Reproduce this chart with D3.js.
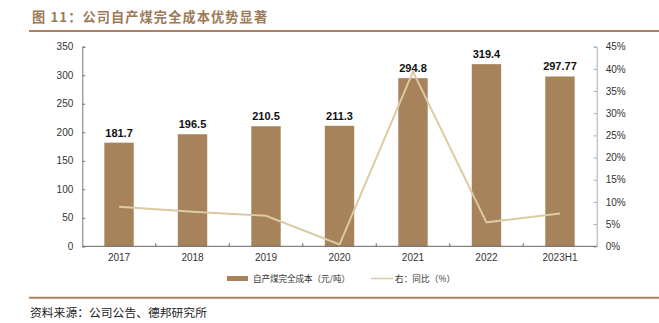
<!DOCTYPE html>
<html><head><meta charset="utf-8">
<script src="https://cdn.jsdelivr.net/npm/d3@7"></script>
<style>
html,body{margin:0;padding:0;background:#fff;}
svg{display:block;}
</style></head>
<body>
<svg id="c" width="659" height="323"></svg>
<script>
const categories = ["2017","2018","2019","2020","2021","2022","2023H1"];
const costValues = [181.7,196.5,210.5,211.3,294.8,319.4,297.77];
const costLabels = ["181.7","196.5","210.5","211.3","294.8","319.4","297.77"];
const yoyValues = [8.9,7.8,6.9,0.4,39.4,5.4,7.4];
const leftTicks = [0,50,100,150,200,250,300,350];
const rightTicks = [0,5,10,15,20,25,30,35,40,45];
const titleText = "图 11：公司自产煤完全成本优势显著";
const legendNames = ["自产煤完全成本（元/吨）","右：同比（%）"];
const sourceText = "资料来源：公司公告、德邦研究所";

const svg = d3.select("#c");
const barColor = "#a6835b", lineColor = "#dccaa2", brown = "#a88462";
const latin = "'Liberation Sans', Arial, sans-serif";
const cjk = "'Noto Sans CJK SC', sans-serif";

const x0 = 82.3, x1 = 596.7, yb = 246.3, yt = 46.7;
const x = d3.scaleBand().domain(categories).range([x0, x1]).paddingInner(0.6).paddingOuter(0.3);
const yL = d3.scaleLinear().domain([0,350]).range([yb, yt]);
const yR = d3.scaleLinear().domain([0,45]).range([yb, yt]);

// title
svg.append("text").attr("x",32).attr("y",21.5).attr("fill","#9c7a58")
  .attr("font-family",cjk).attr("font-weight","bold").attr("font-size",13.2)
  .attr("letter-spacing",1.1).text(titleText);
svg.append("line").attr("x1",29).attr("x2",659).attr("y1",31).attr("y2",31)
  .attr("stroke",brown).attr("stroke-width",2);

// bars
svg.append("g").selectAll("rect").data(costValues).join("rect")
  .attr("x",(d,i)=>x(categories[i])).attr("width",x.bandwidth())
  .attr("y",d=>yL(d)).attr("height",d=>yb-yL(d)).attr("fill",barColor);

// bar labels
svg.append("g").selectAll("text").data(costValues).join("text")
  .attr("x",(d,i)=>x(categories[i])+x.bandwidth()/2).attr("y",d=>yL(d)-6)
  .attr("text-anchor","middle").attr("font-family",latin).attr("font-weight","bold")
  .attr("font-size",11).attr("fill","#111").text((d,i)=>costLabels[i]);

// line
const line = d3.line().x((d,i)=>x(categories[i])+x.bandwidth()/2).y(d=>yR(d));
svg.append("path").datum(yoyValues).attr("d",line).attr("fill","none")
  .attr("stroke",lineColor).attr("stroke-width",2);

// left axis
const gl = svg.append("g").attr("transform",`translate(${x0},0)`)
  .call(d3.axisLeft(yL).tickValues(leftTicks).tickSize(-3).tickPadding(9));
gl.select(".domain").attr("stroke","#777");
gl.selectAll(".tick line").attr("stroke","#777");
gl.selectAll("text").attr("font-family",latin).attr("font-size",10).attr("fill","#333");

// right axis
const gr = svg.append("g").attr("transform",`translate(${x1},0)`)
  .call(d3.axisRight(yR).tickValues(rightTicks).tickSize(-3).tickPadding(9).tickFormat(d=>d+"%"));
gr.select(".domain").attr("stroke","#aaa");
gr.selectAll(".tick line").attr("stroke","#aaa");
gr.selectAll("text").attr("font-family",latin).attr("font-size",10).attr("fill","#333");

// bottom axis
const gb = svg.append("g").attr("transform",`translate(0,${yb})`)
  .call(d3.axisBottom(x).tickSize(0).tickPadding(8));
gb.select(".domain").attr("stroke","#666").attr("d",`M${x0},0H${x1}`);
gb.selectAll("text").attr("font-family",latin).attr("font-size",10).attr("fill","#333");
const step = x.step();
gb.append("g").selectAll("line").data(d3.range(1,categories.length)).join("line")
  .attr("x1",i=>x(categories[i])-x.paddingInner()*step/2).attr("x2",i=>x(categories[i])-x.paddingInner()*step/2)
  .attr("y1",0).attr("y2",-3).attr("stroke","#666");

// legend
svg.append("rect").attr("x",227).attr("y",276).attr("width",21).attr("height",5).attr("fill",barColor);
svg.append("text").attr("x",253).attr("y",281.8).attr("font-family",cjk).attr("font-size",8.6)
  .attr("fill","#333").attr("textLength",97).attr("lengthAdjust","spacing").text(legendNames[0]);
svg.append("line").attr("x1",371).attr("x2",393).attr("y1",278.5).attr("y2",278.5)
  .attr("stroke",lineColor).attr("stroke-width",1.5);
svg.append("text").attr("x",395).attr("y",281.8).attr("font-family",cjk).attr("font-size",8.6)
  .attr("fill","#333").attr("textLength",60).attr("lengthAdjust","spacing").text(legendNames[1]);

// bottom rule & source
svg.append("line").attr("x1",29).attr("x2",659).attr("y1",297.7).attr("y2",297.7)
  .attr("stroke",brown).attr("stroke-width",2);
svg.append("text").attr("x",30).attr("y",316.5).attr("font-family",cjk).attr("font-size",11.8)
  .attr("fill","#222").text(sourceText);
</script>
</body></html>
